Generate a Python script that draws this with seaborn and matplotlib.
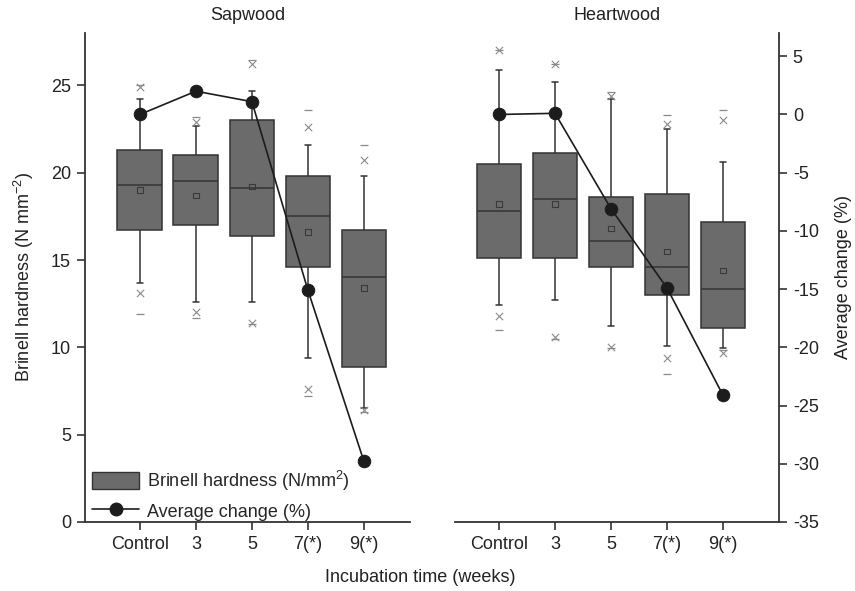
import numpy as np
import pandas as pd
import matplotlib.pyplot as plt
import seaborn as sns
from matplotlib.patches import Patch
from matplotlib.lines import Line2D

# categories
weeks = ['Control', '3', '5', '7(*)', '9(*)']

# Sapwood Brinell hardness (N/mm2)
sap_low = [13.7, 12.6, 12.6, 9.4, 6.5]       # lower whisker
sap_q1 = [16.7, 17.0, 16.4, 14.6, 8.9]
sap_med = [19.3, 19.5, 19.1, 17.5, 14.0]
sap_q3 = [21.3, 21.0, 23.0, 19.8, 16.7]
sap_high = [24.2, 22.7, 24.7, 21.6, 19.8]    # upper whisker
sap_mean = [19.0, 18.7, 19.2, 16.6, 13.4]
sap_p1 = [13.1, 12.0, 11.4, 7.6, 6.4]
sap_p99 = [24.9, 22.9, 26.2, 22.6, 20.7]
sap_min = [11.9, 11.7, 11.35, 7.2, 6.3]
sap_max = [25.0, 23.2, 26.45, 23.6, 21.6]
sap_change = [0.0, 2.0, 1.1, -15.1, -29.8]   # average change (%)

# Heartwood
heart_low = [12.4, 12.7, 11.2, 10.1, 9.95]
heart_q1 = [15.1, 15.1, 14.6, 13.0, 11.1]
heart_med = [17.8, 18.5, 16.1, 14.6, 13.35]
heart_q3 = [20.5, 21.1, 18.6, 18.8, 17.2]
heart_high = [25.9, 25.2, 24.2, 22.5, 20.6]
heart_mean = [18.2, 18.2, 16.8, 15.5, 14.4]
heart_p1 = [11.8, 10.6, 10.0, 9.4, 9.7]
heart_p99 = [27.0, 26.2, 24.4, 22.8, 23.0]
heart_min = [11.0, 10.5, 9.95, 8.5, 9.85]
heart_max = [27.0, 26.2, 24.6, 23.3, 23.6]
heart_change = [0.0, 0.1, -8.1, -14.9, -24.1]

BOX = '#6b6b6b'
EDGE = '#333333'
DOT = '#1c1c1c'
MARK = '#8a8a8a'
FS = 13

sns.set_style('ticks')
plt.rcParams['font.family'] = ['Liberation Sans', 'DejaVu Sans']
plt.rcParams['mathtext.fontset'] = 'custom'
plt.rcParams['mathtext.rm'] = 'Liberation Sans'
plt.rcParams['mathtext.default'] = 'regular'
plt.rcParams['axes.unicode_minus'] = False
plt.rcParams['axes.edgecolor'] = EDGE
plt.rcParams['axes.linewidth'] = 1.3

fig = plt.figure(figsize=(8.55, 5.91), dpi=100)
ax1 = fig.add_axes([0.0994, 0.1168, 0.380, 0.8274])
ax2 = fig.add_axes([0.532, 0.1168, 0.379, 0.8274])


def draw_panel(ax, low, q1, med, q3, high, mean, p1, p99, vmin, vmax, change):
    # five numbers per week -> quartiles and whisker ends reproduce the box exactly
    df = pd.DataFrame({
        'week': np.repeat(weeks, 5),
        'hardness': np.column_stack([low, q1, med, q3, high]).ravel(),
    })
    sns.boxplot(data=df, x='week', y='hardness', order=weeks, whis=(0, 100),
                width=0.8, color=BOX, saturation=1, linecolor=EDGE,
                linewidth=1.1, showfliers=False, capwidths=0.1, ax=ax)
    pos = np.arange(len(weeks))
    ax.scatter(pos, mean, marker='s', s=16, facecolors='none',
               edgecolors='#3a3a3a', linewidths=0.8, zorder=4)
    ax.scatter(pos, p1, marker='x', s=28, color=MARK, linewidths=0.8, zorder=4)
    ax.scatter(pos, p99, marker='x', s=28, color=MARK, linewidths=0.8, zorder=4)
    ax.scatter(pos, vmin, marker='_', s=28, color=MARK, linewidths=0.9, zorder=4)
    ax.scatter(pos, vmax, marker='_', s=28, color=MARK, linewidths=0.9, zorder=4)
    ax.set_ylim(0, 28)
    ax.set_xlabel('')
    ax.set_ylabel('')

    tw = ax.twinx()
    sns.lineplot(x=pos, y=change, marker='o', color=DOT, markersize=9,
                 markeredgecolor=DOT, linewidth=1.2, ax=tw)
    tw.set_ylim(-35, 7)
    return tw


tw1 = draw_panel(ax1, sap_low, sap_q1, sap_med, sap_q3, sap_high, sap_mean,
                 sap_p1, sap_p99, sap_min, sap_max, sap_change)
tw2 = draw_panel(ax2, heart_low, heart_q1, heart_med, heart_q3, heart_high,
                 heart_mean, heart_p1, heart_p99, heart_min, heart_max, heart_change)

ax1.set_xlim(-0.98, 4.82)
tw1.set_xlim(-0.98, 4.82)
ax2.set_xlim(-0.79, 5.0)
tw2.set_xlim(-0.79, 5.0)

# left panel: left + bottom spines
sns.despine(ax=ax1, top=True, right=True)
for s in tw1.spines.values():
    s.set_visible(False)
tw1.set_yticks([])
tw1.set_ylabel('')
ax1.set_yticks(range(0, 26, 5))
ax1.set_ylabel('Brinell hardness (N mm$^{-2}$)', fontsize=FS, color='#222', labelpad=11)

# right panel: bottom + right spines
for s in ['top', 'left', 'right']:
    ax2.spines[s].set_visible(False)
ax2.set_yticks([])
tw2.spines['top'].set_visible(False)
tw2.spines['left'].set_visible(False)
tw2.spines['bottom'].set_visible(False)
tw2.spines['right'].set_linewidth(1.3)
tw2.set_yticks(range(-35, 6, 5))
tw2.set_ylabel('Average change (%)', fontsize=FS, color='#222', labelpad=12)

for ax in [ax1, ax2, tw1, tw2]:
    ax.tick_params(axis='both', direction='out', length=6, width=1.2,
                   color=EDGE, labelcolor='#222', labelsize=FS, pad=4)
for ax in [ax1, ax2]:
    ax.set_xticks(range(len(weeks)))
    ax.set_xticklabels(weeks)

ax1.set_title('Sapwood', fontsize=FS, color='#222', pad=9)
ax2.set_title('Heartwood', fontsize=FS, color='#222', pad=9)
fig.text(0.491, 0.022, 'Incubation time (weeks)', ha='center', va='center',
         fontsize=FS, color='#222')

handles = [
    Patch(facecolor=BOX, edgecolor=EDGE, label='Brinell hardness (N/mm$^2$)'),
    Line2D([0], [0], color=DOT, marker='o', markersize=9, linewidth=1.2,
           label='Average change (%)'),
]
tw1.legend(handles=handles, loc='lower left', frameon=False, fontsize=FS,
           handlelength=2.6, handleheight=1.1, handletextpad=0.45,
           labelspacing=0.5, borderaxespad=0.0, bbox_to_anchor=(0.0, -0.012))

plt.savefig('out.png', dpi=100)
